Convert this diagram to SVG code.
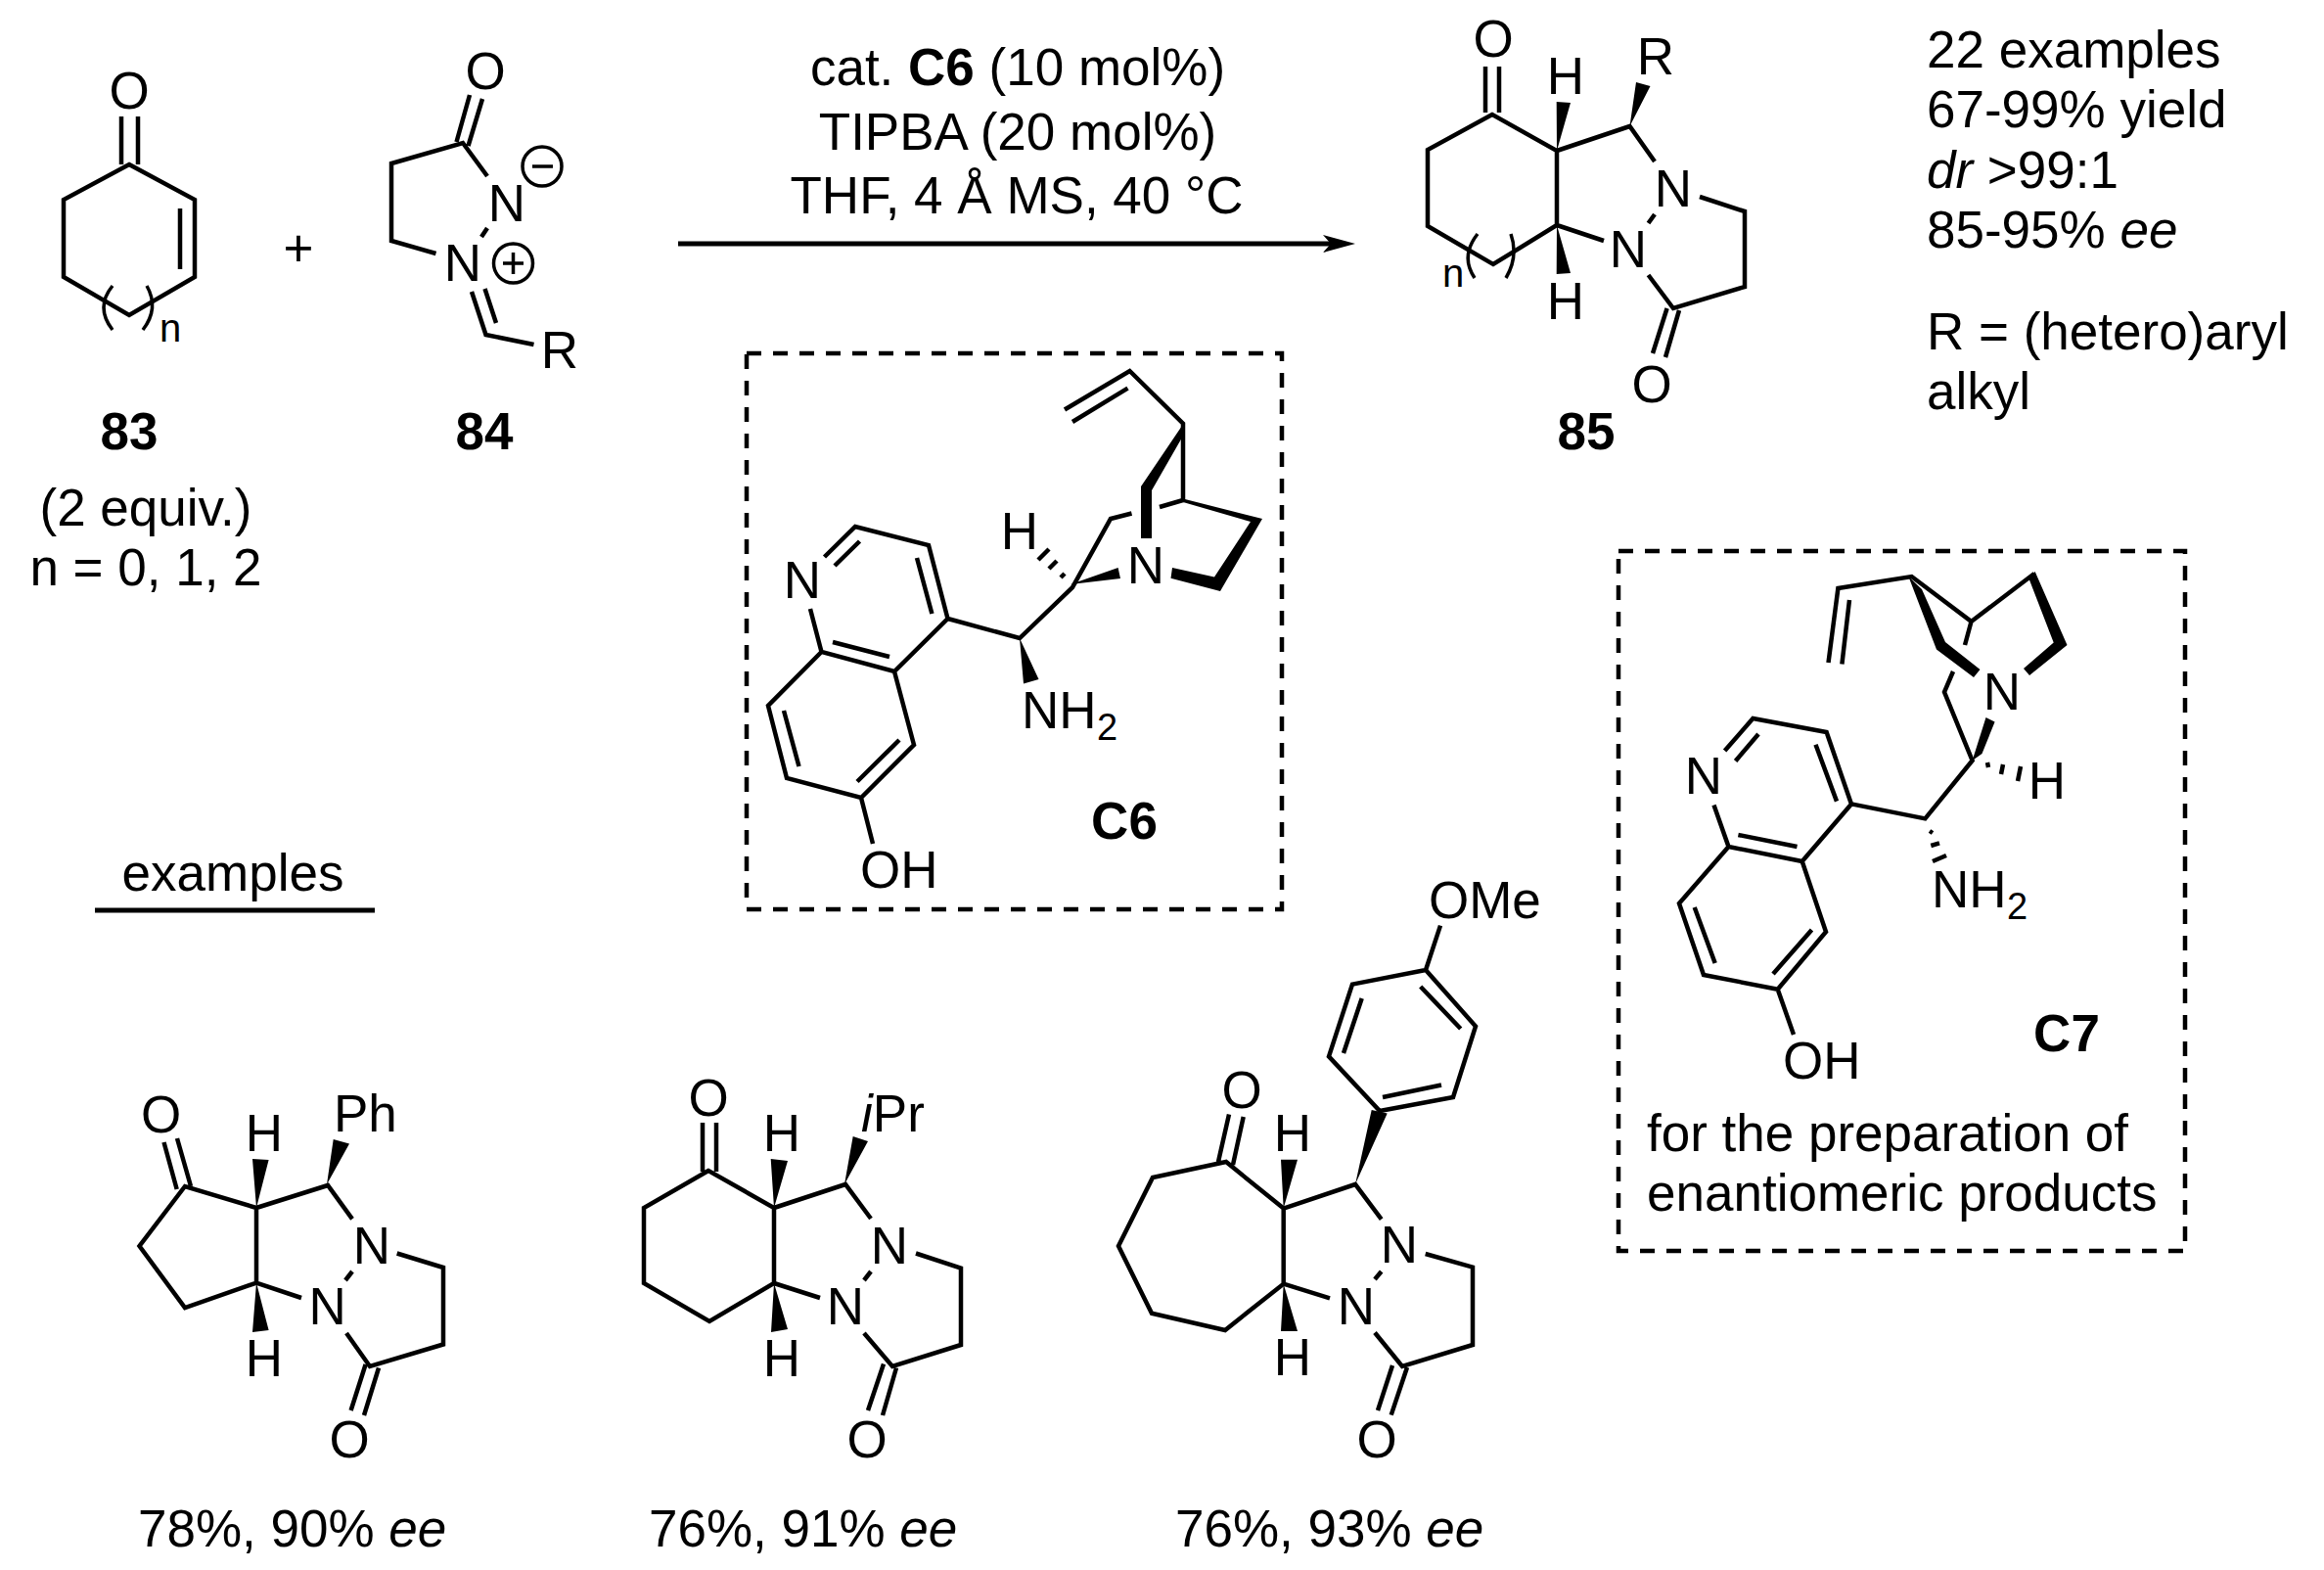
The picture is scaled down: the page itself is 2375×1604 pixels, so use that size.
<svg xmlns="http://www.w3.org/2000/svg" width="2375" height="1604" viewBox="0 0 2375 1604">
<style>
text{font-family:"Liberation Sans",Arial,sans-serif;font-size:53px;fill:#000}
.m{text-anchor:middle}
.b{font-weight:bold}
.i{font-style:italic}
.s{font-size:38px}
.n{font-size:40px}
.l{fill:none;stroke:#000;stroke-width:4.5;stroke-linejoin:miter;stroke-linecap:butt}
.c{fill:none;stroke:#000;stroke-width:3.5}
.p{fill:none;stroke:#000;stroke-width:3.5}
.w{fill:#000;stroke:none}
.d{fill:none;stroke:#000;stroke-width:4.5;stroke-dasharray:15 12}
</style>
<defs>
<marker id="head" markerUnits="userSpaceOnUse" markerWidth="34" markerHeight="18" viewBox="0 0 33 18" refX="8" refY="9" orient="auto"><path d="M0 0L33 9L0 18L8 9z" fill="#000"/></marker>
</defs>
<rect width="2375" height="1604" fill="#fff"/>

<g id="connectors">
<path d="M693 249H1360" fill="none" stroke="#000" stroke-width="5" marker-end="url(#head)"/>
</g>

<g id="compound-83">
<path class="l" d="M132 168L199 204V283L132 322L65 283V204ZM124 119V168M141 119V168M184 213V275"/>
<path class="p" d="M115 292Q97 314 115 337M150 292Q163 315 146 337"/>
<text class="m" x="132" y="111">O</text>
<text x="163" y="349" class="n">n</text>
<text class="m b" x="132" y="459">83</text>
<text class="m" x="149" y="537">(2 equiv.)</text>
<text class="m" x="149" y="598">n = 0, 1, 2</text>
</g>

<g id="plus"><text class="m" x="305" y="272">+</text></g>

<g id="compound-84">
<path class="l" d="M498 180L473 146L400 167V246L445.500 259M480 97L466.500 145M493 101L478.500 149M498 233L492 242M482 298L496.500 342L545.500 352M495.500 295L507 330"/>
<text class="m" x="496" y="91">O</text>
<text class="m" x="518" y="226">N</text>
<text class="m" x="473" y="287">N</text>
<text class="m" x="572" y="376">R</text>
<circle class="c" cx="554" cy="170" r="20"/>
<path class="c" d="M544 170H565"/>
<circle class="c" cx="524.500" cy="269" r="20"/>
<path class="c" d="M514 269H535M524.500 258V280"/>
<text class="m b" x="495" y="459">84</text>
</g>

<g id="conditions">
<text class="m" x="1040" y="87">cat. <tspan class="b">C6</tspan> (10 mol%)</text>
<text class="m" x="1040" y="153">TIPBA (20 mol%)</text>
<text class="m" x="1039" y="218">THF, 4 Å MS, 40 °C</text>
</g>

<g id="compound-85">
<path class="l" d="M1525 117L1459 153V231L1526 270L1591 230V154ZM1518 68V115M1532 68V115M1591 154L1665.500 129L1691 165M1591 230L1639 246M1691 219L1684.500 228M1737 201L1783 216V293L1710 315L1684.500 281M1703.600 315L1689 361M1716 317L1702 365"/>
<path class="p" d="M1510 239Q1492 262 1507 284M1544 239Q1552 262 1539 284"/>
<path class="w" d="M1665.500 129L1672 84L1686.500 88ZM1591 154L1590.700 104L1605 105ZM1591 230L1590.700 280L1605 279Z"/>
<text class="m" x="1526" y="58">O</text>
<text class="m" x="1692" y="76">R</text>
<text class="m" x="1600" y="96">H</text>
<text class="m" x="1600" y="326">H</text>
<text class="m" x="1710" y="211">N</text>
<text class="m" x="1664" y="273">N</text>
<text class="m" x="1688" y="411">O</text>
<text x="1474" y="293" class="n">n</text>
<text class="m b" x="1621" y="459">85</text>
</g>

<g id="scope-notes">
<text x="1969" y="69">22 examples</text>
<text x="1969" y="130">67-99% yield</text>
<text x="1969" y="192"><tspan class="i">dr</tspan> &gt;99:1</text>
<text x="1969" y="253">85-95% <tspan class="i">ee</tspan></text>
<text x="1969" y="357">R = (hetero)aryl</text>
<text x="1969" y="418">alkyl</text>
</g>

<g id="catalyst-C6">
<rect class="d" x="763" y="361" width="547" height="568"/>
<path class="l" d="M828 622L839.500 666L914 686L968.500 632L949 557L874 538L842.500 569M853 578L878.500 553M937 570L952.400 627M851 656L909 671M839.500 666L785 721L804 795L880 815L934 761L914 686M801 726L816.500 783M876 798.500L919 756M880 815L892 862M968.500 632L1042 652L1096 600L1135 530L1156.500 524.500M1185 518L1209 511V432.600L1154.500 379L1088 418.500M1152.500 396.600L1096 431"/>
<path class="w" d="M1042 652L1046 698.600L1061.500 694ZM1094 597L1142.600 580L1145 591ZM1210 432L1166 497V550H1177V501L1208 447ZM1209 509.500L1290 530L1247 604L1196.500 590.700L1198 580L1241 589.500L1278 533L1209 513Z"/>
<path class="l" d="M1084 590L1088 586M1072 581L1080 573M1061 572L1072 561"/>
<text class="m" x="820" y="611">N</text>
<text class="m" x="1171" y="596">N</text>
<text class="m" x="1042" y="561">H</text>
<text x="1044" y="744">NH</text><text x="1121" y="756" class="s">2</text>
<text x="879" y="907">OH</text>
<text class="m b" x="1149" y="857">C6</text>
</g>

<g id="catalyst-C7">
<rect class="d" x="1654" y="563" width="579" height="715"/>
<path class="l" d="M1751.500 822.500L1766.500 865L1841.700 880L1892 821.400L1866.600 748L1791.400 734L1762.600 767M1773.600 777.500L1797 750M1855.500 760.700L1877 818.600M1776.400 853L1836.500 865M1766.500 865L1716 923L1741 996L1816.700 1010.700L1866 952L1841.700 880M1731.700 927L1752.700 984M1812 995L1851.500 950M1816.700 1010.700L1833 1057M1892 821.400L1967.400 836.400L2015.600 777L1987 707L1996 686M2008 659L2014.500 635L1953.600 589L1878.400 601L1868.500 677M1890 613L1882.400 678.600M2014.500 635L2079 586"/>
<path class="w" d="M1950.400 589L1979 663.600L2017 692L2023.500 684L1988 656L1964 602ZM2073 590L2079.700 584L2112.500 659L2074 690L2068 683L2098.700 656.400ZM2015.600 777L2029.500 733L2038.600 737.500L2025.500 770Z"/>
<path class="l" d="M2031 779L2032 784M2047 781L2045 791M2065 783L2062 798M1972 849L1975 851M1973.300 864L1982 861.400M1975 880L1989 874"/>
<text class="m" x="1741" y="811">N</text>
<text class="m" x="2046" y="725">N</text>
<text class="m" x="2092" y="816">H</text>
<text x="1974" y="927">NH</text><text x="2051" y="939" class="s">2</text>
<text x="1822" y="1102">OH</text>
<text class="m b" x="2112" y="1074">C7</text>
<text x="1683" y="1176">for the preparation of</text>
<text x="1683" y="1237">enantiomeric products</text>
</g>

<g id="examples-heading">
<text class="m" x="238" y="910">examples</text>
<path d="M97 930H383" stroke="#000" stroke-width="5" fill="none"/>
</g>

<g id="example-1">
<path class="l" d="M189 1212L142.500 1273L189 1336L262 1310.600V1234ZM167.500 1167L180.700 1215M181 1163L195 1212M262 1234L335 1211L360 1245.400M262 1310.600L308 1326M360 1299L353 1308M405.700 1280.500L453 1295V1373.500L378 1396L354 1362M373.600 1394L358.600 1441M387 1397.500L372 1446"/>
<path class="w" d="M262 1234L258 1184L274.600 1185ZM334 1210L340.700 1164L357 1168.600ZM262 1310.600L258 1361L274.600 1359Z"/>
<text class="m" x="164.600" y="1157">O</text>
<text class="m" x="270" y="1176">H</text>
<text x="341" y="1156">Ph</text>
<text class="m" x="270" y="1406">H</text>
<text class="m" x="380" y="1291">N</text>
<text class="m" x="334.600" y="1353">N</text>
<text class="m" x="357" y="1489">O</text>
<text x="141" y="1580">78%, 90% <tspan class="i">ee</tspan></text>
</g>

<g id="example-2">
<path class="l" d="M724 1196L658 1234V1311L725 1350L791 1311V1234ZM718 1147V1197M732 1147V1197M791 1234L864 1210L890 1245M791 1311L838 1326M890 1299L883 1308M936 1280.500L982 1295.600V1374L912 1396L883 1362M903 1393.500L887 1441M916 1397.500L902 1446"/>
<path class="w" d="M791 1234L787.700 1184L805 1186ZM863 1210L871.700 1161L887 1166ZM791 1311L788 1361L805 1358Z"/>
<text class="m" x="724" y="1139.500">O</text>
<text class="m" x="799" y="1176">H</text>
<text x="880" y="1156"><tspan class="i">i</tspan>Pr</text>
<text class="m" x="799" y="1406">H</text>
<text class="m" x="909" y="1291">N</text>
<text class="m" x="864" y="1353">N</text>
<text class="m" x="886" y="1489">O</text>
<text x="663" y="1580">76%, 91% <tspan class="i">ee</tspan></text>
</g>

<g id="example-3">
<path class="l" d="M1311.700 1234.600L1253 1187L1178 1203L1143 1273L1177 1341.700L1252 1359L1311.700 1311.700ZM1245 1187L1256 1138.500M1260 1190L1270.700 1141M1311.700 1234.600L1385 1210L1411.700 1245.600M1311.700 1311.700L1359 1326.400M1411.700 1299L1405 1307M1456.700 1281L1505 1294.600V1374L1433 1396L1405 1361.500M1423 1395L1408 1441M1438 1397L1421.700 1445.600M1472 945.600L1457 991M1457 991L1508 1048.500L1485 1121L1410 1135L1358 1079.400L1382 1005.600ZM1451.700 1008L1492.700 1051M1473 1108.500L1413 1121M1373 1076L1391.700 1020"/>
<path class="w" d="M1385 1210L1401.700 1134L1417.700 1137.600ZM1311.700 1234.600L1309 1184.700L1326 1184.700ZM1311.700 1311.700L1309 1360L1326 1360Z"/>
<text x="1460" y="938">OMe</text>
<text class="m" x="1269" y="1132">O</text>
<text class="m" x="1321" y="1175.500">H</text>
<text class="m" x="1321" y="1405">H</text>
<text class="m" x="1430" y="1290">N</text>
<text class="m" x="1386" y="1353">N</text>
<text class="m" x="1407" y="1489">O</text>
<text x="1201" y="1580">76%, 93% <tspan class="i">ee</tspan></text>
</g>
</svg>
